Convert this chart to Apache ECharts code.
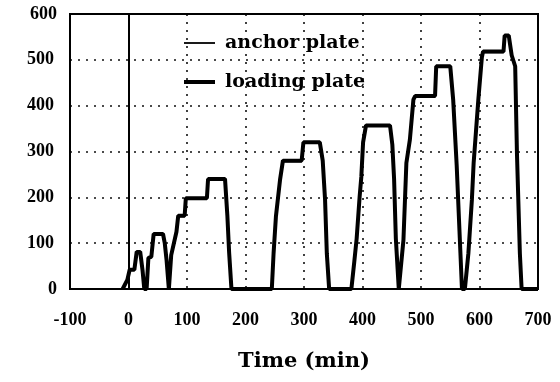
<!DOCTYPE html>
<html>
<head>
<meta charset="utf-8">
<script src="https://cdn.jsdelivr.net/npm/echarts@6/dist/echarts.min.js"></script>
<style>html,body{margin:0;padding:0;background:#fff;}#c{width:560px;height:382px;}#frame{position:absolute;box-sizing:border-box;border:2px solid #000;pointer-events:none;}</style>
</head>
<body>
<div id="c"></div>
<div id="frame"></div>
<script>
// Time (min) and load (tf)
const loadingTime = [-10,-2,1,2,10,14,20,24,27,31,34,39,43,59,62,65,69,71,73,82,85,96,98,134,136,165,169,172,176,245,248,252,259,264,296,299,327,332,336,339,343,381,386,390,395,398,401,406,447,451,454,457,462,464,470,475,481,487,490,524,526,550,555,561,570,575,581,587,590,598,604,606,641,643,650,655,661,664,669,672,700];
const loadingLoad = [0,20,22,42,42,81,81,41,0,0,68,70,120,120,100,64,0,0,74,125,160,160,198,198,240,240,160,80,0,0,78,158,238,280,280,320,320,280,195,78,0,0,60,110,200,245,320,357,357,315,240,110,0,0,107,275,326,413,421,421,486,486,413,270,0,0,78,195,275,413,505,518,518,553,553,510,486,297,78,0,0];
const anchorTime = loadingTime.slice();
const anchorLoad = [0,20,22,42,42,80,80,40,0,0,66,70,119,119,98,62,0,0,72,124,158,158,197,197,238,238,158,78,0,0,76,156,236,278,278,318,318,278,193,76,0,0,58,108,198,243,318,355,355,313,238,108,0,0,105,273,324,411,419,419,484,484,411,268,0,0,76,193,273,411,503,516,516,551,551,508,484,295,76,0,0];
const xTicks = [-100,0,100,200,300,400,500,600,700];
const yTicks = [0,100,200,300,400,500,600];
const seriesNames = ['anchor plate','loading plate'];

const zip = (t, v) => t.map((x, i) => [x, v[i]]);
const serif = 'Liberation Serif';
const xMin = xTicks[0], xMax = xTicks[xTicks.length - 1];
const yMin = yTicks[0], yMax = yTicks[yTicks.length - 1];
const chart = echarts.init(document.getElementById('c'));
chart.setOption({
  animation: false,
  grid: {left: 70, right: 22, top: 14, bottom: 93, outerBoundsMode: 'none',
         show: true, borderColor: '#000', borderWidth: 2},
  legend: {
    data: [
      {name: seriesNames[0], lineStyle: {width: 1.8}},
      {name: seriesNames[1], lineStyle: {width: 4}}
    ],
    orient: 'vertical', left: 182, top: 33, itemGap: 19, padding: 0,
    itemWidth: 31, itemHeight: 14,
    itemStyle: {opacity: 0},
    textStyle: {fontFamily: 'DejaVu Serif', fontWeight: 'bold', fontSize: 19, color: '#000', lineHeight: 20, padding: [0, 0, 0, 5]}
  },
  xAxis: {
    type: 'value', min: xMin, max: xMax, interval: 100,
    name: 'Time (min)', nameLocation: 'middle', nameGap: 62,
    nameTextStyle: {fontFamily: 'DejaVu Serif', fontWeight: 'bold', fontSize: 21, color: '#000'},
    axisLine: {show: true, onZero: false, lineStyle: {color: '#000', width: 2}},
    axisTick: {show: false},
    axisLabel: {fontFamily: serif, fontWeight: 'bold', fontSize: 18, color: '#000', margin: 22},
    splitLine: {show: true, lineStyle: {color: '#111', width: 1.6, type: [2, 6]}}
  },
  yAxis: {
    type: 'value', min: yMin, max: yMax, interval: 100,
    name: 'Load (tf)', nameLocation: 'middle', nameGap: 98, nameRotate: 90,
    nameTextStyle: {fontFamily: 'DejaVu Serif', fontSize: 20, color: '#000'},
    axisLine: {show: true, onZero: true, lineStyle: {color: '#000', width: 2}},
    axisTick: {show: false},
    axisLabel: {
      margin: 13,
      formatter: v => (v === 0 || v === 600) ? '{n|' + v + '}' : '{w|' + v + '}',
      rich: {
        n: {fontFamily: serif, fontWeight: 'bold', fontSize: 18, color: '#000'},
        w: {fontFamily: serif, fontWeight: 'bold', fontSize: 18, color: '#000', backgroundColor: '#fff', padding: [0, 3]}
      }
    },
    splitLine: {show: true, lineStyle: {color: '#111', width: 1.6, type: [2, 6]}}
  },
  series: [
    {name: seriesNames[0], type: 'line', data: zip(anchorTime, anchorLoad), symbol: 'none', z: 3,
     lineStyle: {color: '#000', width: 1.5}, itemStyle: {color: '#000'}},
    {name: seriesNames[1], type: 'line', data: zip(loadingTime, loadingLoad), symbol: 'none', z: 2,
     lineStyle: {color: '#000', width: 4}, itemStyle: {color: '#000'}}
  ]
});
// plot frame placed from the axis extents through the chart's own scales
const p0 = chart.convertToPixel({gridIndex: 0}, [xMin, yMax]);
const p1 = chart.convertToPixel({gridIndex: 0}, [xMax, yMin]);
const fr = document.getElementById('frame');
fr.style.left = (p0[0] - 1) + 'px';
fr.style.top = (p0[1] - 1) + 'px';
fr.style.width = (p1[0] - p0[0] + 2) + 'px';
fr.style.height = (p1[1] - p0[1] + 2) + 'px';
</script>
</body>
</html>
